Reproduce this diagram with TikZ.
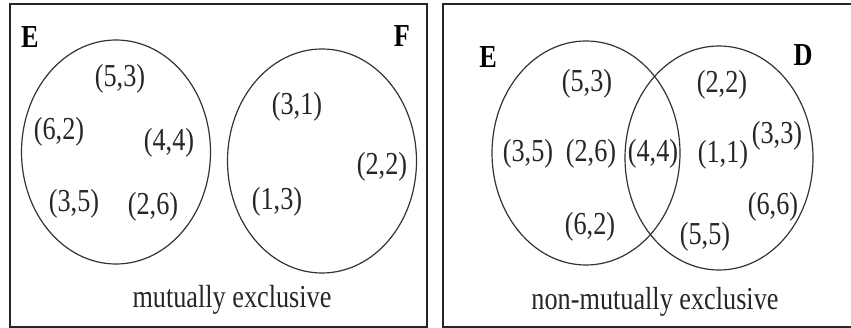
\documentclass[tikz,border=0pt]{standalone}
\usepackage{fontspec}
\setmainfont{Liberation Serif}[FakeStretch=0.82]
\begin{document}
\begin{tikzpicture}[x=1pt,y=-1pt,
  panel/.style={draw=black!85,line width=1.6pt},
  setring/.style={draw=black!80,line width=1.2pt},
  elem/.style={inner sep=0pt,font=\fontsize{32}{36}\selectfont,text=black!85},
  setname/.style={inner sep=0pt,font=\fontsize{32}{36}\selectfont\bfseries},
  caption/.style={inner sep=0pt,font=\fontsize{32}{36}\selectfont,text=black!85}]
\useasboundingbox (0,0) rectangle (851,328);
% left panel
\draw[panel] (10,4) rectangle (427,327);
\draw[setring] (116,152) ellipse [x radius=94.5, y radius=112];
\draw[setring] (322,161) ellipse [x radius=94.5, y radius=112];
\node[setname] (lE) at (30,37) {E};
\node[setname] (lF) at (402,36) {F};
\node[elem] (l53) at (120,79) {(5,3)};
\node[elem] (l62) at (59,132) {(6,2)};
\node[elem] (l44) at (169,143) {(4,4)};
\node[elem] (l35) at (74,204) {(3,5)};
\node[elem] (l26) at (153,207) {(2,6)};
\node[elem] (l31) at (297,107) {(3,1)};
\node[elem] (l22) at (382,167) {(2,2)};
\node[elem] (l13) at (277,202) {(1,3)};
\node[caption] (lcap) at (232,300) {mutually exclusive};
% right panel
\draw[panel] (853,4) -- (443,4) -- (443,327) -- (853,327);
\draw[setring] (586,153) ellipse [x radius=94, y radius=112];
\draw[setring] (719,158) ellipse [x radius=94, y radius=112];
\node[setname] (rE) at (488,57) {E};
\node[setname] (rD) at (803,55) {D};
\node[elem] (r53) at (587,84) {(5,3)};
\node[elem] (r22) at (722,85) {(2,2)};
\node[elem] (r35) at (528,154) {(3,5)};
\node[elem] (r26) at (591,154) {(2,6)};
\node[elem] (r44) at (653,154) {(4,4)};
\node[elem] (r11) at (723,155) {(1,1)};
\node[elem] (r33) at (777,136) {(3,3)};
\node[elem] (r66) at (773,207) {(6,6)};
\node[elem] (r62) at (590,227) {(6,2)};
\node[elem] (r55) at (705,237) {(5,5)};
\node[caption] (rcap) at (655,302) {non-mutually exclusive};
\end{tikzpicture}
\end{document}
